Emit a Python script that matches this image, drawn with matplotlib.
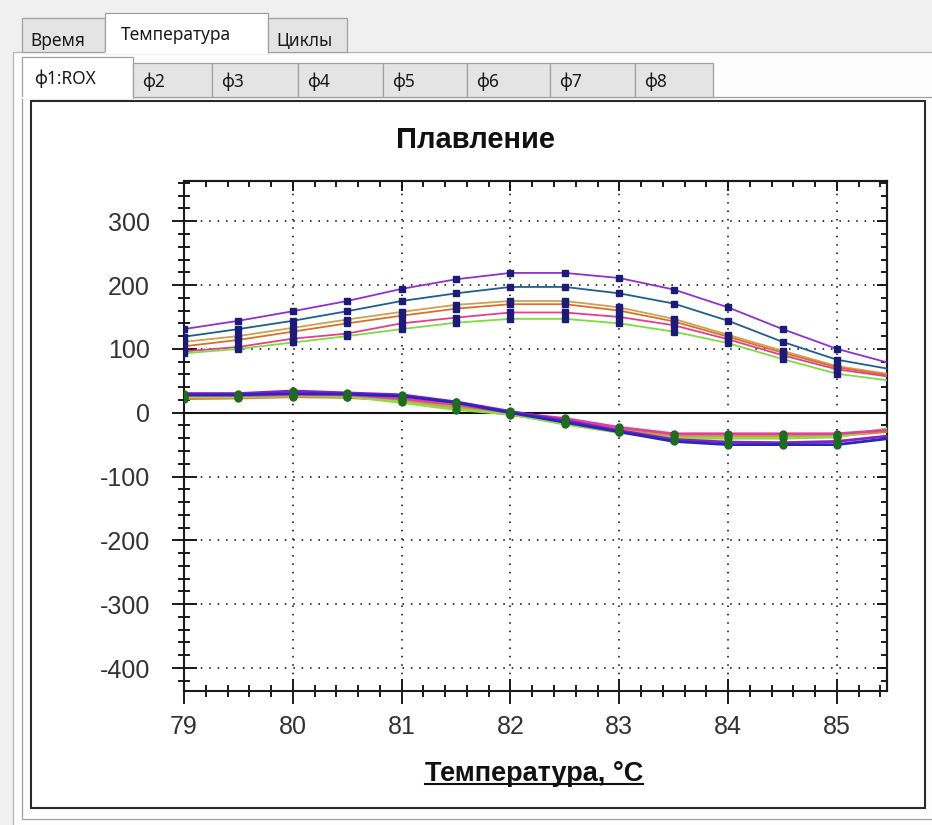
import matplotlib.pyplot as plt
import matplotlib.patches as patches
from matplotlib.ticker import MultipleLocator, NullFormatter

plt.rcParams['font.family'] = ['Liberation Sans', 'DejaVu Sans']
plt.rcParams['axes.unicode_minus'] = False

# temperature points (markers every 0.5 C)
temps = [79, 79.5, 80, 80.5, 81, 81.5, 82, 82.5, 83, 83.5, 84, 84.5, 85, 85.5]

# melt curves (upper group)
melt_purple = [131, 144, 159, 175, 194, 209, 219, 219, 211, 193, 165, 131, 100, 77]
melt_teal = [119, 131, 144, 159, 175, 187, 197, 197, 187, 171, 144, 111, 83, 68]
melt_tan = [111, 120, 133, 146, 158, 169, 175, 175, 165, 147, 122, 97, 73, 60]
melt_orange = [104, 114, 127, 140, 152, 163, 170, 170, 160, 143, 119, 94, 71, 58]
melt_pink = [96, 103, 116, 124, 140, 149, 157, 157, 150, 137, 115, 90, 68, 56]
melt_green = [93, 100, 110, 120, 131, 141, 147, 147, 140, 127, 109, 84, 61, 50]

# derivative curves (lower group)
der_blue = [28, 28, 30, 29, 26, 16, 0, -15, -30, -45, -50, -50, -50, -40]
der_purple = [30, 30, 34, 31, 28, 17, 2, -12, -28, -42, -46, -47, -45, -36]
der_pink = [27, 27, 28, 28, 22, 13, 0, -9, -23, -33, -33, -33, -33, -27]
der_orange = [22, 23, 25, 24, 19, 8, -3, -15, -27, -37, -37, -37, -36, -29]
der_tan = [24, 24, 26, 25, 20, 9, -2, -13, -26, -36, -36, -36, -35, -27]
der_green = [25, 25, 27, 26, 16, 5, -2, -18, -31, -40, -40, -40, -38, -24]

top_tabs = ['Время', 'Температура', 'Циклы']
channel_tabs = ['ф1:ROX', 'ф2', 'ф3', 'ф4', 'ф5', 'ф6', 'ф7', 'ф8']

W, H = 932, 825
fig = plt.figure(figsize=(W / 100, H / 100), dpi=100, facecolor='#f0f0f0')

# window chrome drawn in pixel coordinates (y from top)
bg = fig.add_axes([0, 0, 1, 1])
bg.set_xlim(0, W)
bg.set_ylim(H, 0)
bg.axis('off')


def box(x0, y0, x1, y1, fc, ec='#a0a0a0', lw=0.9):
    bg.add_patch(patches.Rectangle((x0, y0), x1 - x0, y1 - y0, facecolor=fc,
                                   edgecolor=ec, linewidth=lw))


tab_font = dict(family=['Noto Sans', 'DejaVu Sans'], fontsize=12.5, color='#1a1a1a')

# outer tab page
box(13, 52, W + 5, H + 5, '#fdfdfd', '#b4b4b4')
top_edges = [(22, 105, 18), (105, 268, 13), (268, 347, 18)]
for name, (x0, x1, y0) in zip(top_tabs, top_edges):
    sel = name == 'Температура'
    box(x0, y0, x1, 52 + (1 if sel else 0), '#ffffff' if sel else '#e4e4e4')
    if sel:
        bg.plot([x0 + 1, x1 - 1], [52.5, 52.5], color='#ffffff', lw=1.5)
    bg.text(x0 + (16 if sel else 8), 46 if not sel else 40, name, va='baseline', **tab_font)

# inner tab page
box(22, 97, W + 5, 819, '#fdfdfd', '#a0a0a0')
ch_edges = [22, 133, 212, 298, 383, 467, 550, 635, 713]
for i, name in enumerate(channel_tabs):
    x0, x1 = ch_edges[i], ch_edges[i + 1]
    sel = i == 0
    box(x0, 57 if sel else 63, x1, 98 if sel else 97, '#ffffff' if sel else '#e4e4e4')
    if sel:
        bg.plot([x0 + 1, x1 - 1], [97.5, 97.5], color='#ffffff', lw=1.5)
    bg.text(x0 + 12 if sel else x0 + 9, 84 if sel else 87, name, va='baseline', **tab_font)

# chart panel
box(31, 101, 925, 808, '#ffffff', '#2a2a2a', 1.5)

bg.text(476, 148, 'Плавление', fontsize=21, fontweight='bold', ha='center',
        va='baseline', color='#111111')
xlab = bg.text(534, 781, 'Температура, °C', fontsize=19.5, fontweight='bold',
               ha='center', va='baseline', color='#111111')

# plot area
ax = fig.add_axes([184 / W, (H - 691) / H, (887 - 184) / W, (691 - 181) / H])
ax.set_facecolor('white')

for vals, c in [(melt_purple, '#9030d0'), (melt_teal, '#1f5f8c'),
                (melt_tan, '#d0a050'), (melt_orange, '#d8702c'),
                (melt_pink, '#e83c8c'), (melt_green, '#7cdc40')]:
    ax.plot(temps, vals, color=c, lw=1.3, marker='s', ms=4,
            mfc='#1c1c78', mec='#1c1c78', zorder=3)

for vals, c in [(der_orange, '#e07830'), (der_tan, '#c8a040'),
                (der_green, '#90dc40'), (der_pink, '#e040a0'),
                (der_purple, '#8a1ec8'), (der_blue, '#2828b8')]:
    ax.plot(temps, vals, color=c, lw=2.0, marker='o', ms=5,
            mfc='#1f6b1f', mec='#1f6b1f', zorder=3)

ax.axhline(0, color='#111111', lw=1.5, zorder=2)

ax.set_xlim(79, 85.46)
ax.set_ylim(-436, 363)
ax.xaxis.set_major_locator(MultipleLocator(1))
ax.xaxis.set_minor_locator(MultipleLocator(0.2))
ax.yaxis.set_major_locator(MultipleLocator(100))
ax.yaxis.set_minor_locator(MultipleLocator(20))

ax.grid(which='major', color='black', linestyle=(0, (1, 4.5)), linewidth=1.1)
ax.set_axisbelow(True)

ax.tick_params(which='both', direction='inout', width=1.4, color='#1a1a1a',
               labelcolor='#333333', labelsize=18, top=False, right=False)
ax.tick_params(which='major', length=18)
ax.tick_params(which='minor', length=8)
ax.tick_params(axis='x', pad=8)
ax.tick_params(axis='y', pad=15.5)
for s in ax.spines.values():
    s.set_linewidth(1.5)
    s.set_color('#1a1a1a')

# top and right ticks point inwards only
sx = ax.secondary_xaxis('top')
sx.xaxis.set_major_locator(MultipleLocator(1))
sx.xaxis.set_minor_locator(MultipleLocator(0.2))
sx.xaxis.set_major_formatter(NullFormatter())
sx.tick_params(which='both', direction='in', width=1.4, color='#1a1a1a')
sx.tick_params(which='major', length=7)
sx.tick_params(which='minor', length=4)
sy = ax.secondary_yaxis('right')
sy.yaxis.set_major_locator(MultipleLocator(100))
sy.yaxis.set_minor_locator(MultipleLocator(20))
sy.yaxis.set_major_formatter(NullFormatter())
sy.tick_params(which='both', direction='in', width=1.4, color='#1a1a1a')
sy.tick_params(which='major', length=7)
sy.tick_params(which='minor', length=4)
for sec in (sx, sy):
    for s in sec.spines.values():
        s.set_linewidth(1.5)
        s.set_color('#1a1a1a')

# underline for the axis caption
fig.canvas.draw()
bb = xlab.get_window_extent()
bg.plot([bb.x0, bb.x1], [784, 784], color='#111111', lw=1.5)

fig.savefig('out.png', dpi=100, facecolor=fig.get_facecolor())
